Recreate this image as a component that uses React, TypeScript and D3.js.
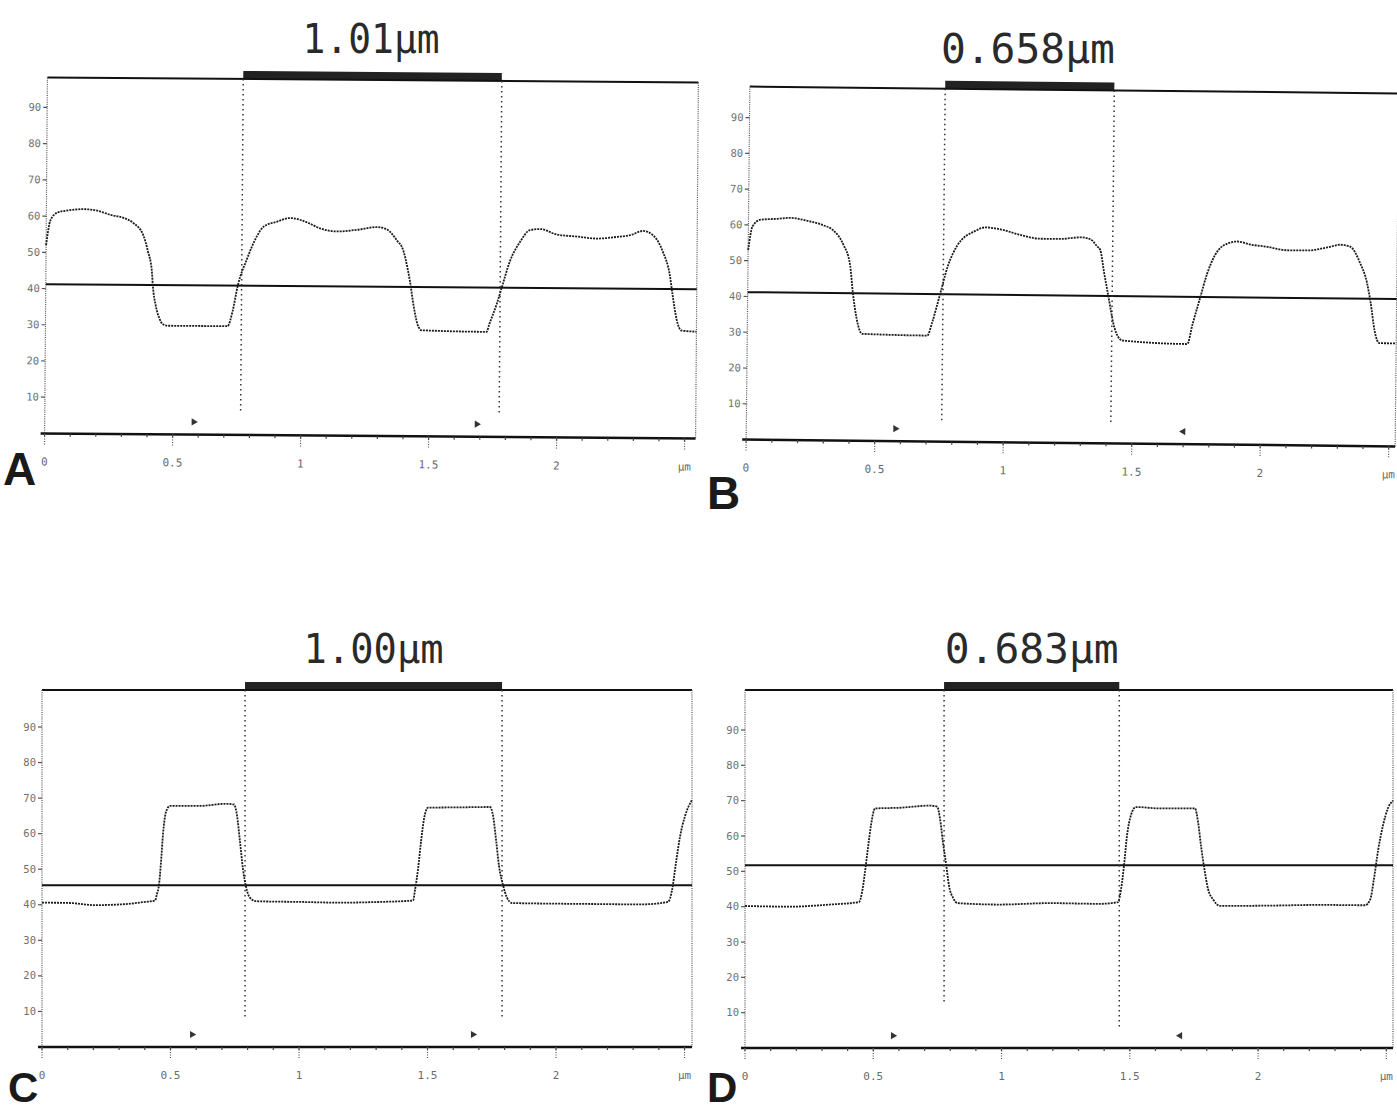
import React from "react";
import * as d3 from "d3";

// linescan profiles, x in µm, y in signal units (0-90 scale)
const profileAX = [0, 0.016, 0.043, 0.082, 0.145, 0.199, 0.25, 0.301, 0.34, 0.379, 0.398, 0.414, 0.418, 0.43, 0.445, 0.457, 0.477, 0.711, 0.73, 0.75, 0.785, 0.824, 0.848, 0.902, 0.953, 1.02, 1.07, 1.137, 1.215, 1.293, 1.332, 1.371, 1.395, 1.414, 1.422, 1.4375, 1.453, 1.469, 1.723, 1.734, 1.762, 1.781, 1.8125, 1.852, 1.89, 1.93, 1.996, 2.074, 2.152, 2.23, 2.281, 2.332, 2.371, 2.41, 2.4375, 2.449, 2.465, 2.484, 2.543];
const profileAY = [52, 58.8, 61, 61.6, 62, 61.6, 60.5, 59.7, 58.3, 55, 50.5, 45, 41.2, 35.6, 32, 30.5, 30, 30, 34, 41.2, 48.6, 55, 57.5, 59, 60, 58.8, 57.2, 56.4, 56.9, 57.7, 57, 54, 51.4, 45.9, 43, 36, 31, 29.3, 29, 31.2, 36.7, 41.2, 48.6, 54, 57.2, 57.5, 56, 55.5, 55, 55.5, 56, 57.2, 56, 51.4, 45, 39.5, 32.9, 29.8, 29.5];

const profileBX = [0, 0.016, 0.047, 0.113, 0.163, 0.23, 0.292, 0.331, 0.37, 0.397, 0.409, 0.424, 0.447, 0.7, 0.72, 0.747, 0.778, 0.813, 0.883, 0.922, 0.981, 1.058, 1.136, 1.214, 1.292, 1.331, 1.358, 1.37, 1.385, 1.401, 1.428, 1.459, 1.712, 1.732, 1.759, 1.786, 1.817, 1.864, 1.903, 1.953, 2.019, 2.097, 2.175, 2.253, 2.304, 2.342, 2.381, 2.409, 2.424, 2.44, 2.459, 2.525];
const profileBY = [53, 59.6, 61.5, 61.8, 62.1, 61.3, 60.1, 58.7, 54.8, 49.2, 41.4, 34.4, 29.9, 29.6, 33.6, 40.8, 49.2, 54.8, 59, 60, 59.5, 58, 57, 57, 57.5, 57, 55, 54, 48, 42, 32.4, 28.8, 28, 33.6, 40.6, 47.6, 53, 56.2, 56.8, 56, 55.4, 54.5, 54.5, 55.4, 56.2, 55.7, 51.2, 45.6, 40, 32.4, 28.8, 28.8];

const profileCX = [0, 0.109, 0.206, 0.304, 0.401, 0.44, 0.447, 0.455, 0.463, 0.471, 0.482, 0.498, 0.615, 0.712, 0.747, 0.759, 0.77, 0.782, 0.794, 0.809, 0.833, 1.004, 1.16, 1.315, 1.444, 1.451, 1.463, 1.475, 1.486, 1.502, 1.626, 1.743, 1.755, 1.767, 1.778, 1.794, 1.809, 1.829, 2.016, 2.171, 2.327, 2.436, 2.451, 2.467, 2.482, 2.502, 2.529];
const profileCY = [40.6, 40.5, 39.9, 40.1, 40.8, 41.2, 43, 45.5, 52, 60, 66, 67.8, 67.8, 68.4, 68.2, 65, 58, 50, 45, 42, 41, 40.8, 40.6, 40.8, 41.2, 44, 50, 58, 64, 67.3, 67.4, 67.5, 65, 58, 51, 45.5, 42, 40.5, 40.3, 40.2, 40.1, 40.8, 44, 52, 59, 65, 69.5];

const profileDX = [0, 0.175, 0.331, 0.444, 0.456, 0.468, 0.48, 0.491, 0.507, 0.604, 0.721, 0.749, 0.76, 0.772, 0.784, 0.795, 0.811, 0.83, 0.994, 1.189, 1.384, 1.454, 1.466, 1.478, 1.489, 1.505, 1.524, 1.618, 1.754, 1.766, 1.778, 1.79, 1.805, 1.825, 1.852, 2.047, 2.242, 2.417, 2.437, 2.452, 2.468, 2.487, 2.507, 2.526];
const profileDY = [40.2, 40, 40.6, 41.3, 44, 50, 57, 63, 67.8, 68, 68.6, 68.3, 65, 58, 52, 46, 42.5, 41, 40.6, 41, 40.8, 41.3, 45, 52, 60, 66, 68.2, 67.8, 67.8, 64, 57, 51, 45, 42, 40.2, 40.3, 40.5, 40.4, 42, 48, 56, 63, 68, 70];

const titles = ["1.01µm", "0.658µm", "1.00µm", "0.683µm"];
const letters = ["A", "B", "C", "D"];
const thresholds = [41.2, 41.2, 45.5, 51.7];
const cursorsA = [0.765, 1.775];
const cursorsB = [0.76, 1.418];
const cursorsC = [0.79, 1.79];
const cursorsD = [0.776, 1.459];
const markersA = [0.582, 1.688];
const markersB = [0.58, 1.7];
const markersC = [0.584, 1.677];
const markersD = [0.577, 1.696];
const markerDirs = [[1, 1], [1, -1], [1, 1], [1, -1]];

const yTicks = [10, 20, 30, 40, 50, 60, 70, 80, 90];
const xTicks = [0, 0.5, 1, 1.5, 2, 2.5];
const xTickLabels = ["0", "0.5", "1", "1.5", "2", "µm"];
const minorTicks = d3.range(0, 26).map((i) => i / 10);

// page geometry of each scanned panel
const layouts = [
  { left: 46, right: 697, y0: 436, y90: 110, top: 80, xMax: 2.543, tilt: 0.45, titleLen: 137, letterX: 3, letterY: 485, letterSize: 46, cursorLow: [6, 6] },
  { left: 748, right: 1397, y0: 443, y90: 121, top: 90, xMax: 2.525, tilt: 0.6, titleLen: 174, letterX: 707, letterY: 509, letterSize: 46, cursorLow: [5, 5] },
  { left: 42, right: 692, y0: 1047, y90: 727, top: 690, xMax: 2.529, tilt: 0, titleLen: 140, letterX: 8, letterY: 1102, letterSize: 42, cursorLow: [8, 8] },
  { left: 745, right: 1393, y0: 1048, y90: 730, top: 690, xMax: 2.526, tilt: 0, titleLen: 174, letterX: 707, letterY: 1102, letterSize: 42, cursorLow: [13, 6] },
];

const profiles = [
  [profileAX, profileAY],
  [profileBX, profileBY],
  [profileCX, profileCY],
  [profileDX, profileDY],
];
const cursors = [cursorsA, cursorsB, cursorsC, cursorsD];
const markers = [markersA, markersB, markersC, markersD];

const mono = "'DejaVu Sans Mono', monospace";

function Panel({ i }: { i: number }) {
  const L = layouts[i];
  const x = d3.scaleLinear().domain([0, L.xMax]).range([L.left, L.right]);
  const y = d3.scaleLinear().domain([0, 90]).range([L.y0, L.y90]);
  const [px, py] = profiles[i];
  const pts: [number, number][] = px.map((v, k) => [v, py[k]]);
  const line = d3
    .line<[number, number]>()
    .x((d) => x(d[0]))
    .y((d) => y(d[1]))
    .curve(d3.curveMonotoneX);
  const [c1, c2] = cursors[i];
  const cx = (L.left + L.right) / 2;
  const cy = (L.top + L.y0) / 2;
  const tri = d3.symbol().type(d3.symbolTriangle).size(22)();

  return (
    <g>
      <text
        x={(x(c1) + x(c2)) / 2}
        y={L.top - 27}
        textAnchor="middle"
        fontFamily={mono}
        fontSize={40}
        fill="#2a2a2a"
        textLength={L.titleLen}
        lengthAdjust="spacingAndGlyphs"
      >
        {titles[i]}
      </text>
      <text x={L.letterX} y={L.letterY} fontFamily="'Liberation Sans', Arial, sans-serif" fontWeight="bold" fontSize={L.letterSize} fill="#1a1a1a">
        {letters[i]}
      </text>
      <g transform={`rotate(${L.tilt} ${cx} ${cy})`}>
        {/* measurement bar */}
        <rect x={x(c1)} y={L.top - 8} width={x(c2) - x(c1)} height={8} fill="#222" />
        {/* frame */}
        <line x1={L.left} x2={L.right} y1={L.top} y2={L.top} stroke="#111" strokeWidth={2} />
        <line x1={L.left} x2={L.left} y1={L.top} y2={L.y0} stroke="#555" strokeWidth={1.2} strokeDasharray="1 1.2" />
        <line x1={L.right} x2={L.right} y1={L.top} y2={L.y0} stroke="#555" strokeWidth={1.2} strokeDasharray="1 1.2" />
        <line x1={L.left - 4} x2={L.right} y1={L.y0} y2={L.y0} stroke="#111" strokeWidth={2.5} />
        {/* y ticks */}
        {yTicks.map((t) => (
          <g key={t}>
            <line x1={L.left - 4} x2={L.left} y1={y(t)} y2={y(t)} stroke="#555" strokeWidth={1.2} />
            <text x={L.left - 6} y={y(t) + 3.5} textAnchor="end" fontFamily={mono} fontSize={10.5} fill="#707070">
              {t}
            </text>
          </g>
        ))}
        {/* x ticks */}
        {minorTicks.map((t) => (
          <line key={t} x1={x(t)} x2={x(t)} y1={L.y0} y2={L.y0 + 3} stroke="#444" strokeWidth={1.2} />
        ))}
        {xTicks.map((t, k) => (
          <g key={t}>
            <line x1={x(t)} x2={x(t)} y1={L.y0} y2={L.y0 + 12} stroke="#555" strokeWidth={1.2} strokeDasharray="1 1.5" />
            <text x={x(t)} y={L.y0 + 32} textAnchor="middle" fontFamily={mono} fontSize={11} fill="#6a6a6a">
              {xTickLabels[k]}
            </text>
          </g>
        ))}
        {/* threshold */}
        <line x1={L.left} x2={L.right} y1={y(thresholds[i])} y2={y(thresholds[i])} stroke="#111" strokeWidth={2} />
        {/* cursors */}
        {[c1, c2].map((c, k) => (
          <line key={k} x1={x(c)} x2={x(c)} y1={L.top} y2={y(L.cursorLow[k])} stroke="#333" strokeWidth={1.5} strokeDasharray="1.5 3.5" />
        ))}
        {/* markers */}
        {markers[i].map((m, k) => (
          <path
            key={k}
            d={tri || ""}
            fill="#333"
            transform={`translate(${x(m)},${y(3.5)}) rotate(${markerDirs[i][k] > 0 ? 90 : -90})`}
          />
        ))}
        {/* profile */}
        <path d={line(pts) || ""} fill="none" stroke="#1c1c1c" strokeWidth={1.8} strokeDasharray="2 1" />
      </g>
    </g>
  );
}

export default function App() {
  return (
    <svg
      width={1397}
      height={1111}
      style={{ position: "absolute", left: 0, top: 0, background: "#fff" }}
    >
      <rect width={1397} height={1111} fill="#fff" />
      {layouts.map((_, i) => (
        <Panel key={i} i={i} />
      ))}
    </svg>
  );
}
